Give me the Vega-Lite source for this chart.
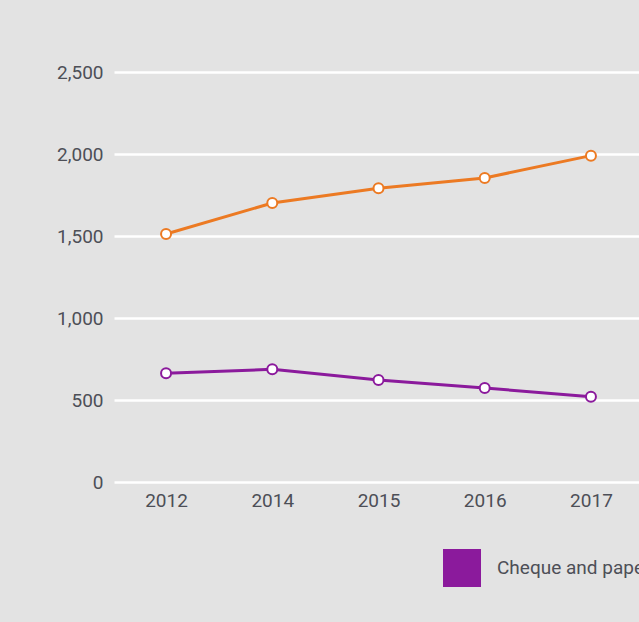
{
  "$schema": "https://vega.github.io/schema/vega-lite/v6.json",
  "width": 529,
  "height": 410,
  "autosize": {"type": "none"},
  "padding": {"left": 114, "top": 72, "right": -4, "bottom": 140},
  "background": "#e3e3e3",
  "config": {"view": {"stroke": null}, "font": "Roboto"},
  "data": {
    "values": [
      {"year": "2012", "series": "Cheque and paper-based payments", "value": 663},
      {"year": "2014", "series": "Cheque and paper-based payments", "value": 687},
      {"year": "2015", "series": "Cheque and paper-based payments", "value": 622},
      {"year": "2016", "series": "Cheque and paper-based payments", "value": 573},
      {"year": "2017", "series": "Cheque and paper-based payments", "value": 520},
      {"year": "2012", "series": "Electronic payments", "value": 1512},
      {"year": "2014", "series": "Electronic payments", "value": 1701},
      {"year": "2015", "series": "Electronic payments", "value": 1791},
      {"year": "2016", "series": "Electronic payments", "value": 1854},
      {"year": "2017", "series": "Electronic payments", "value": 1990}
    ]
  },
  "encoding": {
    "x": {
      "field": "year", "type": "ordinal",
      "scale": {"type": "point", "padding": 0.49},
      "axis": {"title": null, "labelAngle": 0, "domain": false, "ticks": false, "grid": false,
               "labelFontSize": 19, "labelColor": "#4d4f57", "labelPadding": 9}
    },
    "y": {
      "field": "value", "type": "quantitative",
      "scale": {"domain": [0, 2500]},
      "axis": {"title": null, "values": [0, 500, 1000, 1500, 2000, 2500], "format": ",d",
               "domain": false, "ticks": false, "gridColor": "#ffffff", "gridWidth": 2.5, "gridOpacity": 1,
               "labelFontSize": 19, "labelColor": "#4d4f57", "labelPadding": 11}
    }
  },
  "layer": [
    {
      "mark": {"type": "line", "strokeWidth": 3},
      "encoding": {
        "color": {
          "field": "series", "type": "nominal",
          "scale": {"domain": ["Cheque and paper-based payments", "Electronic payments"], "range": ["#8b1a9c", "#ec7a23"]},
          "legend": {
            "title": null, "orient": "none", "legendX": 329, "legendY": 477, "direction": "horizontal",
            "symbolType": "square", "symbolSize": 1444, "symbolStrokeWidth": 0,
            "labelFontSize": 19, "labelColor": "#4d4f57", "labelOffset": 16, "padding": 0,
            "labelLimit": 400,
            "encode": {"symbols": {"update": {"fill": {"scale": "color", "field": "value"}, "opacity": {"value": 1}}}}
          }
        }
      }
    },
    {
      "mark": {"type": "point", "filled": true, "fill": "#ffffff", "size": 100, "strokeWidth": 2, "opacity": 1},
      "encoding": {
        "stroke": {"field": "series", "type": "nominal", "scale": {"domain": ["Cheque and paper-based payments", "Electronic payments"], "range": ["#8b1a9c", "#ec7a23"]}, "legend": null}
      }
    }
  ]
}
